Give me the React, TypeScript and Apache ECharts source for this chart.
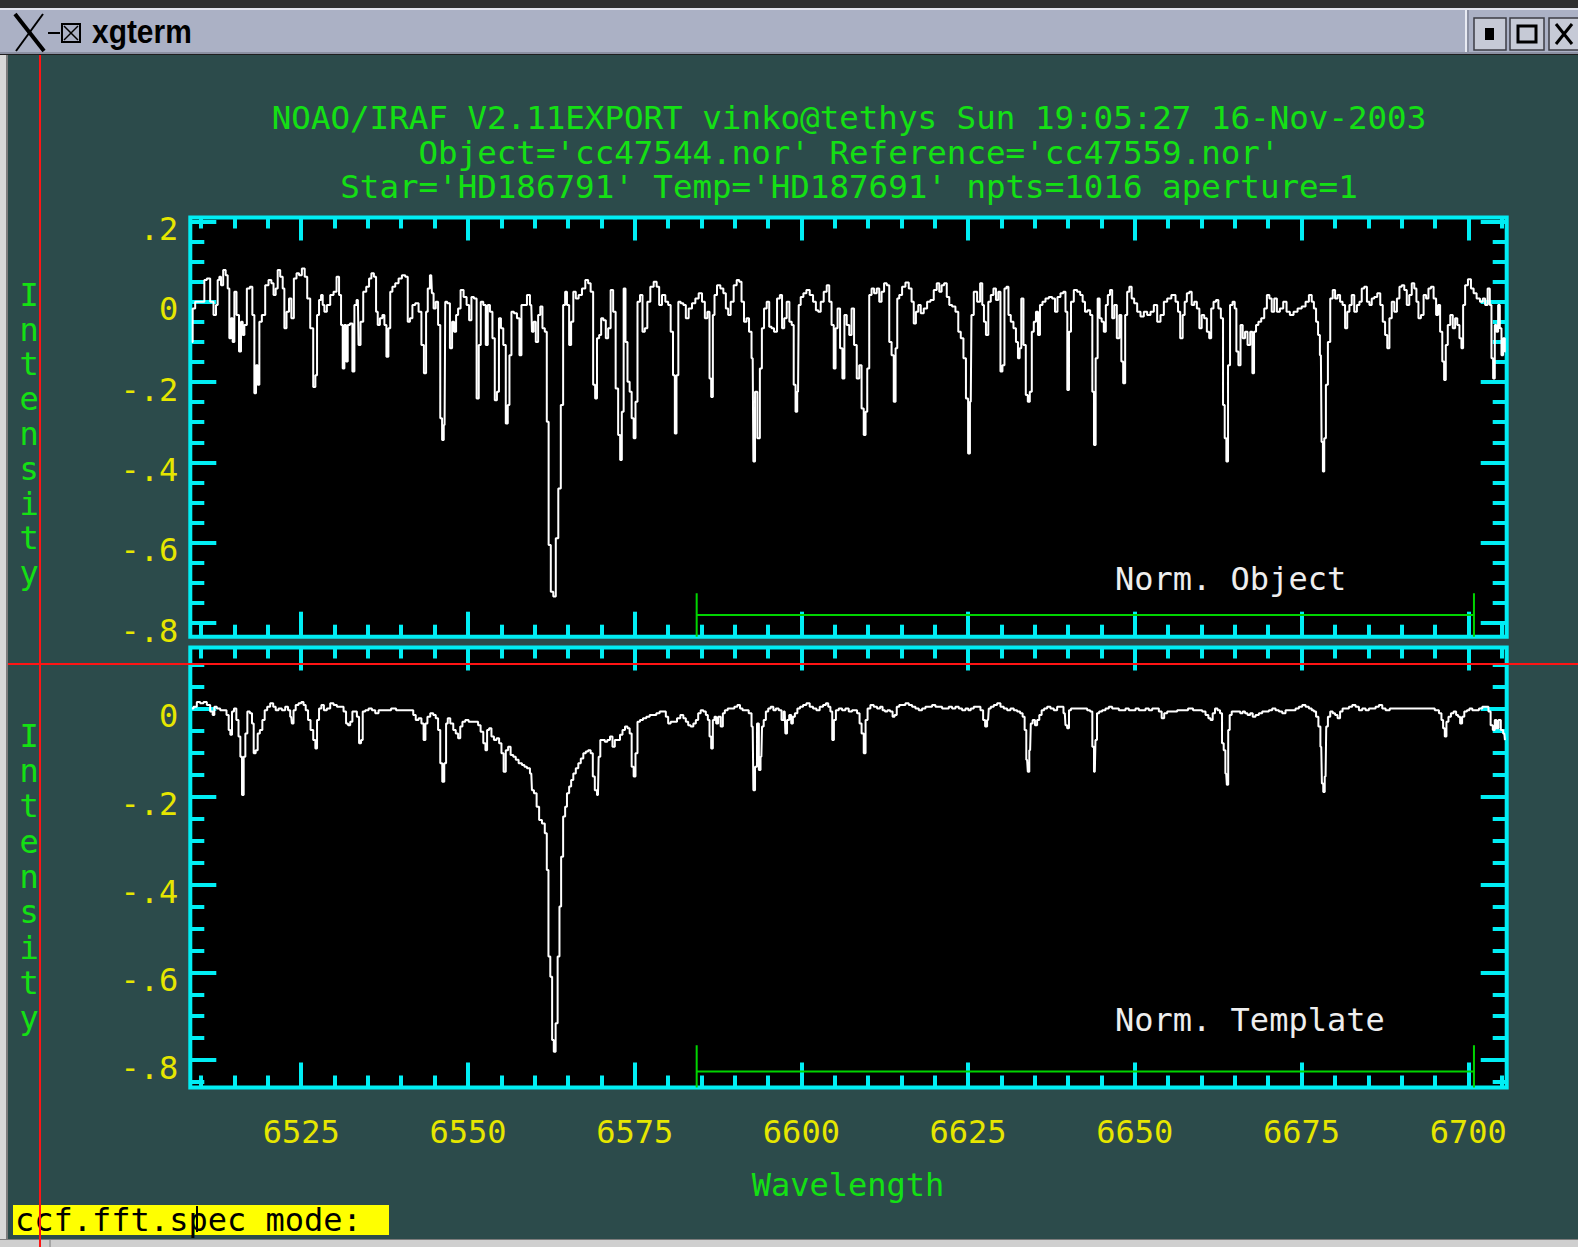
import React, { useEffect, useRef } from "react";
import * as echarts from "echarts";

const W = 1578;
const H = 1247;

const CYAN = "#00eef4";
const YELLOW = "#e6e600";
const GREEN = "#14e014";
const SAMPLE_GREEN = "#00d400";
const TERM_BG = "#2c4b4b";
const MONO = "'DejaVu Sans Mono', monospace";

// Axis ranges (wavelength in Angstrom, normalised intensity)
const waveRange = [6508.37, 6705.76];
const objectRange = [-0.834, 0.2097];
const templateRange = [-0.8624, 0.1399];

// Tick positions
const waveMajorTicks = [6525, 6550, 6575, 6600, 6625, 6650, 6675, 6700];
const waveMinorTicks = [
  6510, 6515, 6520, 6530, 6535, 6540, 6545, 6555, 6560, 6565, 6570, 6580, 6585, 6590, 6595,
  6605, 6610, 6615, 6620, 6630, 6635, 6640, 6645, 6655, 6660, 6665, 6670, 6680, 6685, 6690,
  6695, 6705,
];
const objectMajorTicks = [-0.8, -0.6, -0.4, -0.2, 0, 0.2];
const objectMinorTicks = [
  -0.75, -0.7, -0.65, -0.55, -0.5, -0.45, -0.35, -0.3, -0.25, -0.15, -0.1, -0.05, 0.05, 0.1, 0.15,
];
const templateMajorTicks = [-0.8, -0.6, -0.4, -0.2, 0];
const templateMinorTicks = [
  -0.85, -0.75, -0.7, -0.65, -0.55, -0.5, -0.45, -0.35, -0.3, -0.25, -0.15, -0.1, -0.05, 0.05, 0.1,
];

// Sample region used for the correlation
const sampleRegion = [6584.3, 6700.85];
const objectSampleMarks = { top: -0.726, level: -0.78 };
const templateSampleMarks = { top: -0.766, level: -0.826 };

// Header text
const headerLines = [
  "NOAO/IRAF V2.11EXPORT vinko@tethys Sun 19:05:27 16-Nov-2003",
  "Object='cc47544.nor' Reference='cc47559.nor'",
  "Star='HD186791' Temp='HD187691' npts=1016 aperture=1",
];

// Normalised object spectrum [wavelength, intensity]
const objectSpectrum: [number, number][] = [
  [6508.6,-0.100],[6508.85,-0.017],[6509.35,0],[6510.35,0],[6510.6,0.054],[6511.1,0.058],[6511.6,0],[6512.1,-0.033],[6512.35,-0.008],[6512.6,0.054],[6512.85,0.062],[6513.1,0.041],[6513.5,0.079],[6513.85,0.066],[6514.1,0.033],[6514.35,-0.091],[6514.6,-0.041],[6514.85,-0.100],[6515.1,0.025],[6515.5,-0.033],[6515.85,-0.124],[6516.1,-0.050],[6516.35,-0.083],[6516.6,-0.058],[6517.1,0.033],[6517.5,0.037],[6517.85,-0.033],[6518.1,-0.228],[6518.35,-0.158],[6518.6,-0.207],[6518.85,-0.050],[6519.35,-0.033],[6519.85,0.041],[6520.35,0.054],[6520.7,0.046],[6521.0,0.017],[6521.35,0.033],[6521.6,0.079],[6522.1,0.062],[6522.35,0.033],[6522.6,-0.066],[6523.0,-0.025],[6523.35,0.008],[6523.7,-0.041],[6524.1,0.058],[6524.5,0.071],[6524.85,0.066],[6525.35,0.083],[6525.7,0.062],[6526.1,0.008],[6526.6,-0.066],[6527.0,-0.212],[6527.25,-0.183],[6527.5,-0.033],[6527.85,0.004],[6528.1,0.017],[6528.35,-0.008],[6528.6,-0.025],[6529.1,-0.008],[6529.6,0.017],[6530.1,0.025],[6530.5,0.062],[6530.85,0.017],[6531.1,-0.058],[6531.35,-0.166],[6531.6,-0.058],[6531.85,-0.149],[6532.1,-0.058],[6532.5,-0.054],[6532.85,-0.174],[6533.1,-0.008],[6533.5,0.004],[6533.7,-0.108],[6534.1,-0.050],[6534.5,0.025],[6535.0,0.037],[6535.35,0.058],[6535.7,0.071],[6536.1,0.062],[6536.35,-0.025],[6536.6,-0.058],[6537.0,-0.041],[6537.35,-0.033],[6537.6,-0.058],[6537.95,-0.137],[6538.2,-0.066],[6538.5,0.025],[6538.85,0.037],[6539.35,0.046],[6539.85,0.058],[6540.35,0.066],[6540.85,0.062],[6541.1,-0.050],[6541.5,-0.041],[6541.85,-0.008],[6542.35,-0.004],[6542.85,-0.025],[6543.2,-0.108],[6543.6,-0.178],[6543.85,-0.025],[6544.1,0.033],[6544.5,0.066],[6544.7,0.021],[6545.0,-0.017],[6545.35,0],[6545.7,-0.058],[6546.0,-0.290],[6546.25,-0.344],[6546.5,-0.307],[6546.7,0],[6547.1,-0.004],[6547.5,-0.116],[6547.75,-0.050],[6548.1,-0.075],[6548.35,-0.033],[6548.7,-0.017],[6549.1,0.029],[6549.6,0.012],[6550.0,-0.008],[6550.35,-0.046],[6550.7,0.012],[6551.1,0.008],[6551.5,-0.241],[6551.75,-0.108],[6552.1,0],[6552.5,-0.008],[6552.85,-0.108],[6553.1,-0.008],[6553.5,-0.025],[6553.85,-0.091],[6554.2,-0.245],[6554.5,-0.224],[6554.8,-0.041],[6555.1,-0.066],[6555.5,-0.108],[6555.85,-0.303],[6556.1,-0.257],[6556.35,-0.133],[6556.7,-0.025],[6557.1,-0.029],[6557.6,-0.041],[6557.85,-0.133],[6558.2,-0.008],
  [6558.6,-0.008],[6559.1,0.017],[6559.5,-0.008],[6559.7,-0.075],[6560.0,-0.050],[6560.35,-0.100],[6560.7,-0.033],[6561.0,-0.012],[6561.35,-0.066],[6561.7,-0.075],[6561.95,-0.299],[6562.25,-0.606],[6562.6,-0.722],[6563.0,-0.734],[6563.35,-0.589],[6563.75,-0.465],[6564.1,-0.257],[6564.45,-0.008],[6564.7,0.025],[6565.0,-0.008],[6565.35,-0.108],[6565.6,-0.050],[6566.0,0.025],[6566.35,0.008],[6566.85,0.017],[6567.35,0.033],[6567.85,0.054],[6568.2,0.046],[6568.6,0.025],[6568.95,-0.207],[6569.2,-0.241],[6569.5,-0.091],[6569.85,-0.083],[6570.1,-0.041],[6570.5,-0.046],[6570.85,-0.091],[6571.2,-0.066],[6571.6,0.029],[6571.95,-0.025],[6572.35,-0.216],[6572.7,-0.332],[6572.95,-0.394],[6573.2,-0.274],[6573.5,0.033],[6573.75,-0.100],[6574.1,-0.199],[6574.4,-0.224],[6574.7,-0.290],[6575.0,-0.340],[6575.25,-0.249],[6575.6,0],[6576.0,0.017],[6576.35,-0.075],[6576.7,-0.066],[6577.1,0],[6577.6,0.037],[6578.1,0.050],[6578.5,0.037],[6578.85,-0.008],[6579.35,0.017],[6579.85,0],[6580.2,-0.008],[6580.6,-0.075],[6580.9,-0.183],[6581.15,-0.328],[6581.4,-0.183],[6581.7,0],[6582.1,-0.004],[6582.5,-0.008],[6582.85,-0.041],[6583.35,-0.017],[6583.85,-0.004],[6584.35,0.008],[6584.85,0.021],[6585.35,0],[6585.7,-0.041],[6586.1,-0.025],[6586.35,-0.191],[6586.6,-0.237],[6586.85,-0.033],[6587.1,0.017],[6587.6,0.041],[6588.1,0.033],[6588.5,0.021],[6588.85,-0.017],[6589.2,-0.033],[6589.6,0],[6590.1,0.041],[6590.5,0.054],[6590.85,0.050],[6591.2,0],[6591.6,-0.050],[6591.95,-0.041],[6592.35,-0.075],[6592.7,-0.141],[6592.9,-0.398],[6593.2,-0.224],[6593.6,-0.340],[6593.95,-0.166],[6594.2,-0.066],[6594.6,-0.017],[6595.0,0],[6595.35,-0.062],[6595.7,-0.066],[6596.1,-0.075],[6596.6,0.008],[6596.95,0.017],[6597.25,-0.066],[6597.6,-0.041],[6598.0,0],[6598.4,-0.050],[6598.7,-0.058],[6599.0,-0.207],[6599.25,-0.274],[6599.5,-0.224],[6599.7,-0.008],[6600.1,0.012],[6600.5,0.021],[6601.0,0.029],[6601.5,0.017],[6602.0,0],[6602.35,-0.021],[6602.7,-0.025],[6603.1,0],[6603.6,0.025],[6604.0,0.041],[6604.35,0],[6604.7,-0.058],[6605.0,-0.166],[6605.25,-0.066],[6605.6,-0.017],[6606.0,-0.116],[6606.3,-0.191],[6606.6,-0.033],[6607.0,-0.058],[6607.35,-0.083],[6607.7,-0.017],
  [6608.1,-0.108],[6608.5,-0.191],[6608.85,-0.158],[6609.2,-0.266],[6609.5,-0.332],[6609.75,-0.274],[6610.0,-0.166],[6610.35,0.017],[6610.7,0.033],[6611.1,0.021],[6611.5,0.033],[6611.85,0],[6612.2,0.025],[6612.6,0.046],[6613.0,0.041],[6613.35,-0.100],[6613.7,-0.133],[6614.0,-0.249],[6614.25,-0.116],[6614.5,0.008],[6614.85,0.017],[6615.35,0.037],[6615.85,0.048],[6616.35,0.033],[6616.7,0],[6617.0,-0.054],[6617.35,-0.025],[6617.7,-0.008],[6618.1,-0.029],[6618.6,-0.017],[6619.1,0],[6619.6,0.004],[6620.1,0.029],[6620.5,0.046],[6620.85,0.025],[6621.2,0.041],[6621.6,0.046],[6622.0,0.012],[6622.35,-0.008],[6622.85,-0.012],[6623.35,-0.025],[6623.7,-0.075],[6624.1,-0.091],[6624.5,-0.141],[6624.85,-0.241],[6625.15,-0.378],[6625.4,-0.249],[6625.6,-0.033],[6626.1,0.025],[6626.6,0],[6627.0,0.046],[6627.25,-0.008],[6627.5,-0.050],[6627.85,-0.083],[6628.2,0],[6628.6,0.017],[6629.0,0.033],[6629.35,0.004],[6629.7,0.025],[6630.0,-0.174],[6630.3,-0.158],[6630.6,0.033],[6630.9,0.037],[6631.2,-0.033],[6631.6,-0.050],[6632.0,-0.066],[6632.35,-0.100],[6632.6,-0.141],[6632.85,-0.116],[6633.1,0.008],[6633.5,-0.108],[6633.8,-0.232],[6634.1,-0.249],[6634.4,-0.224],[6634.7,-0.075],[6635.0,-0.050],[6635.35,-0.025],[6635.6,-0.083],[6635.95,-0.008],[6636.35,0],[6636.85,0.008],[6637.35,0.012],[6637.85,0.008],[6638.2,-0.025],[6638.6,0.012],[6639.1,0.021],[6639.45,0.025],[6639.75,-0.025],[6640.0,-0.220],[6640.25,-0.075],[6640.6,0],[6641.1,0.029],[6641.6,0.025],[6642.0,0.017],[6642.35,0],[6642.7,-0.025],[6643.1,-0.021],[6643.5,-0.033],[6643.75,-0.224],[6644.0,-0.357],[6644.25,-0.141],[6644.6,0.008],[6644.85,-0.041],[6645.2,-0.050],[6645.5,-0.075],[6645.8,-0.008],[6646.1,0.017],[6646.45,0.029],[6646.75,-0.041],[6647.1,-0.008],[6647.5,-0.091],[6647.85,-0.033],[6648.1,-0.149],[6648.4,-0.203],[6648.7,-0.033],[6649.0,0.025],[6649.35,0.037],[6649.7,0.008],[6650.1,-0.004],[6650.6,-0.025],[6651.1,-0.037],[6651.6,-0.025],[6652.1,-0.033],[6652.6,-0.025],[6653.1,-0.008],[6653.6,-0.050],[6654.1,-0.033],[6654.6,0],[6655.1,0.008],[6655.85,0.017],[6656.35,0],[6656.6,-0.025],[6657.0,-0.091],[6657.35,-0.033],
  [6657.6,0],[6658.0,0.021],[6658.35,0.025],[6658.7,-0.008],[6659.1,0],[6659.5,-0.017],[6659.85,-0.066],[6660.2,-0.033],[6660.6,-0.041],[6661.0,-0.075],[6661.3,-0.091],[6661.6,-0.017],[6662.0,0],[6662.35,0.004],[6662.7,-0.017],[6663.1,-0.041],[6663.35,-0.257],[6663.6,-0.340],[6663.85,-0.398],[6664.1,-0.158],[6664.45,-0.008],[6664.85,0],[6665.1,-0.017],[6665.35,-0.124],[6665.7,-0.158],[6666.0,-0.058],[6666.35,-0.091],[6666.7,-0.075],[6667.1,-0.108],[6667.5,-0.075],[6667.75,-0.178],[6668.0,-0.075],[6668.35,-0.058],[6668.7,-0.050],[6669.2,-0.041],[6669.6,-0.017],[6670.0,0.017],[6670.35,0.008],[6670.7,-0.025],[6671.1,0.008],[6671.5,-0.025],[6672.0,-0.017],[6672.5,0],[6673.0,-0.025],[6673.5,-0.033],[6674.1,-0.025],[6674.7,-0.017],[6675.35,-0.012],[6675.85,0],[6676.35,0.017],[6676.7,0],[6677.0,-0.017],[6677.35,-0.050],[6677.6,-0.083],[6677.9,-0.133],[6678.1,-0.349],[6678.3,-0.423],[6678.5,-0.340],[6678.8,-0.207],[6679.1,-0.100],[6679.5,0.008],[6679.85,0.029],[6680.2,0.008],[6680.6,0.017],[6680.95,0],[6681.35,-0.008],[6681.7,-0.066],[6682.0,-0.025],[6682.35,-0.008],[6682.7,0.017],[6683.1,-0.025],[6683.5,-0.008],[6683.85,0],[6684.2,0.033],[6684.6,0.037],[6685.0,0],[6685.35,-0.008],[6685.7,0.008],[6686.1,0.012],[6686.6,0.021],[6687.0,-0.008],[6687.35,-0.050],[6687.7,-0.083],[6688.0,-0.116],[6688.35,-0.041],[6688.7,0],[6689.1,-0.025],[6689.5,0.008],[6689.85,0.037],[6690.2,0.041],[6690.6,0.029],[6690.95,-0.008],[6691.35,0.017],[6691.7,0.046],[6692.1,0.033],[6692.35,0],[6692.7,-0.041],[6693.1,-0.033],[6693.5,0.017],[6693.85,0.008],[6694.2,0.033],[6694.6,0.037],[6695.0,0.008],[6695.35,-0.033],[6695.6,-0.008],[6695.95,-0.075],[6696.25,-0.149],[6696.5,-0.195],[6696.75,-0.108],[6697.1,-0.058],[6697.5,-0.033],[6697.85,-0.066],[6698.2,-0.041],[6698.5,-0.058],[6698.85,-0.091],[6699.1,-0.116],[6699.35,-0.008],[6699.7,0.041],[6700.2,0.056],[6700.6,0.033],[6701.0,0.021],[6701.5,0.008],[6702.0,0],[6702.35,0.008],[6702.7,-0.008],[6703.1,0.033],[6703.35,-0.008],[6703.6,-0.141],[6703.85,-0.191],[6704.1,-0.058],[6704.35,-0.075],[6704.6,-0.008],[6704.85,-0.066],[6705.1,-0.133],[6705.35,-0.091],[6705.6,-0.124],
];

// Normalised template spectrum [wavelength, intensity]
const templateSpectrum: [number, number][] = [
  [6508.6,0.001],[6509.1,0.005],[6509.6,0.016],[6510.1,0.013],[6510.6,0.016],[6511.1,0.009],[6511.6,-0.006],[6511.85,-0.014],[6512.1,0.005],[6512.6,0.001],[6513.1,-0.003],[6513.6,-0.003],[6514.0,-0.014],[6514.25,-0.048],[6514.5,-0.059],[6514.75,-0.006],[6515.1,0.001],[6515.45,-0.025],[6515.75,-0.063],[6516.0,-0.109],[6516.25,-0.196],[6516.5,-0.109],[6516.75,-0.056],[6517.1,-0.006],[6517.5,-0.010],[6517.75,-0.033],[6518.0,-0.101],[6518.35,-0.094],[6518.6,-0.056],[6519.0,-0.048],[6519.35,-0.025],[6519.7,-0.003],[6520.1,0.005],[6520.6,0.013],[6521.0,0.005],[6521.35,-0.003],[6521.85,0.001],[6522.35,-0.003],[6522.85,0.005],[6523.2,-0.003],[6523.5,-0.018],[6523.7,-0.033],[6524.0,-0.003],[6524.35,0.009],[6524.85,0.013],[6525.2,0.016],[6525.5,0.009],[6525.85,-0.003],[6526.2,-0.025],[6526.6,-0.048],[6527.0,-0.071],[6527.25,-0.090],[6527.5,-0.025],[6527.85,0.001],[6528.2,0.009],[6528.6,-0.003],[6529.1,0.001],[6529.6,0.013],[6530.1,0.009],[6530.6,0.005],[6531.1,0.005],[6531.6,-0.006],[6531.85,-0.033],[6532.2,-0.037],[6532.5,-0.029],[6532.85,-0.006],[6533.2,-0.006],[6533.5,-0.018],[6533.85,-0.078],[6534.1,-0.071],[6534.35,-0.006],[6534.85,-0.003],[6535.35,0.001],[6535.85,-0.003],[6536.35,-0.010],[6536.85,-0.003],[6537.35,-0.003],[6538.1,-0.003],[6538.85,0.001],[6539.6,-0.003],[6540.35,-0.003],[6541.1,-0.003],[6541.6,-0.003],[6542.0,-0.014],[6542.35,-0.025],[6542.85,-0.021],[6543.2,-0.033],[6543.5,-0.071],[6543.75,-0.033],[6544.1,-0.018],[6544.6,-0.010],[6545.0,-0.014],[6545.35,-0.021],[6545.7,-0.048],[6546.0,-0.124],[6546.3,-0.166],[6546.6,-0.124],[6546.85,-0.033],[6547.1,-0.021],[6547.6,-0.033],[6548.0,-0.048],[6548.35,-0.056],[6548.7,-0.067],[6549.0,-0.040],[6549.35,-0.029],[6549.85,-0.025],[6550.35,-0.029],[6550.85,-0.029],[6551.35,-0.029],[6551.7,-0.037],[6552.1,-0.052],[6552.5,-0.078],[6552.75,-0.094],[6553.0,-0.048],[6553.35,-0.044],[6553.7,-0.063],[6554.1,-0.071],[6554.5,-0.067],[6554.85,-0.078],[6555.2,-0.101],[6555.5,-0.143],[6555.85,-0.094],[6556.2,-0.086],[6556.6,-0.105],[6557.0,-0.109],[6557.35,-0.116],[6557.85,-0.124],[6558.35,-0.128],
  [6558.6,-0.132],[6559.1,-0.135],[6559.5,-0.147],[6559.7,-0.185],[6560.1,-0.192],[6560.5,-0.223],[6560.85,-0.253],[6561.35,-0.261],[6561.7,-0.283],[6561.95,-0.367],[6562.2,-0.564],[6562.5,-0.610],[6562.75,-0.754],[6563.0,-0.781],[6563.3,-0.716],[6563.6,-0.564],[6563.85,-0.450],[6564.1,-0.337],[6564.45,-0.245],[6564.7,-0.223],[6565.0,-0.192],[6565.35,-0.177],[6565.6,-0.162],[6566.0,-0.147],[6566.35,-0.135],[6566.75,-0.124],[6567.1,-0.113],[6567.5,-0.101],[6567.85,-0.097],[6568.2,-0.094],[6568.6,-0.101],[6568.85,-0.154],[6569.2,-0.185],[6569.5,-0.196],[6569.7,-0.109],[6570.0,-0.071],[6570.35,-0.071],[6570.7,-0.075],[6571.1,-0.071],[6571.5,-0.063],[6571.85,-0.086],[6572.2,-0.071],[6572.6,-0.071],[6573.0,-0.059],[6573.35,-0.048],[6573.75,-0.040],[6574.1,-0.044],[6574.4,-0.056],[6574.7,-0.132],[6575.0,-0.154],[6575.25,-0.101],[6575.6,-0.029],[6576.0,-0.025],[6576.5,-0.021],[6577.0,-0.018],[6577.5,-0.014],[6578.0,-0.014],[6578.5,-0.010],[6579.0,-0.006],[6579.5,-0.006],[6579.85,-0.018],[6580.2,-0.033],[6580.6,-0.029],[6581.1,-0.029],[6581.6,-0.021],[6582.1,-0.014],[6582.5,-0.021],[6582.85,-0.029],[6583.2,-0.037],[6583.6,-0.040],[6584.0,-0.033],[6584.35,-0.025],[6584.7,-0.010],[6585.1,-0.003],[6585.5,-0.006],[6585.85,-0.014],[6586.1,-0.025],[6586.35,-0.063],[6586.6,-0.090],[6586.85,-0.025],[6587.1,-0.018],[6587.35,-0.033],[6587.7,-0.018],[6588.1,-0.040],[6588.35,-0.010],[6588.7,-0.003],[6589.2,0.001],[6589.7,0.001],[6590.2,0.005],[6590.6,0.009],[6591.0,0.001],[6591.35,-0.003],[6591.85,-0.003],[6592.35,-0.010],[6592.7,-0.040],[6592.9,-0.185],[6593.2,-0.132],[6593.5,-0.033],[6593.75,-0.139],[6594.0,-0.109],[6594.2,-0.040],[6594.5,-0.025],[6594.85,-0.006],[6595.2,0.001],[6595.6,0.005],[6596.0,-0.003],[6596.35,0.001],[6596.85,-0.003],[6597.2,-0.025],[6597.5,-0.006],[6597.7,-0.056],[6598.0,-0.025],[6598.35,-0.014],[6598.6,-0.033],[6598.85,-0.018],[6599.2,-0.010],[6599.6,0.001],[6600.0,0.005],[6600.5,0.009],[6601.0,0.013],[6601.5,0.005],[6602.0,0.001],[6602.5,-0.003],[6603.0,0.005],[6603.5,0.009],[6603.85,0.013],[6604.2,0.005],[6604.5,-0.006],[6604.75,-0.071],[6605.0,-0.025],[6605.35,-0.003],[6605.85,0.001],[6606.35,-0.003],[6606.85,0.001],[6607.35,-0.006],[6607.85,-0.003],
  [6608.1,-0.003],[6608.6,-0.010],[6608.85,-0.033],[6609.2,-0.056],[6609.5,-0.101],[6609.75,-0.025],[6610.1,0.001],[6610.6,0.009],[6611.1,0.005],[6611.6,0.001],[6612.0,0.005],[6612.35,-0.003],[6612.7,-0.006],[6613.1,-0.003],[6613.5,-0.006],[6613.85,-0.018],[6614.1,-0.014],[6614.5,0.005],[6614.85,0.009],[6615.35,0.009],[6615.85,0.013],[6616.35,0.009],[6616.85,0.005],[6617.35,0.001],[6617.85,-0.003],[6618.35,0.001],[6618.85,0.005],[6619.35,0.005],[6619.85,0.009],[6620.35,0.005],[6620.85,0.005],[6621.35,0.001],[6621.85,0.001],[6622.35,0.005],[6622.85,0.001],[6623.35,0.005],[6623.85,0.001],[6624.35,-0.003],[6624.85,0.001],[6625.2,-0.003],[6625.6,0.001],[6626.1,0.005],[6626.6,0.005],[6627.1,-0.003],[6627.4,-0.025],[6627.7,-0.040],[6628.0,-0.025],[6628.2,0.001],[6628.6,0.005],[6629.1,0.009],[6629.6,0.013],[6630.1,0.005],[6630.6,0.001],[6631.1,-0.003],[6631.6,0.001],[6632.1,-0.003],[6632.6,-0.006],[6633.0,-0.010],[6633.35,-0.018],[6633.6,-0.048],[6633.85,-0.116],[6634.05,-0.143],[6634.3,-0.094],[6634.5,-0.033],[6634.85,-0.025],[6635.2,-0.037],[6635.5,-0.025],[6635.85,-0.014],[6636.2,-0.003],[6636.6,0.001],[6637.1,0.005],[6637.6,0.001],[6638.1,-0.003],[6638.6,0.005],[6639.1,0.005],[6639.5,-0.010],[6639.7,-0.037],[6640.0,-0.044],[6640.25,-0.003],[6640.6,0.001],[6641.1,0.001],[6641.6,0.001],[6642.1,0.001],[6642.6,0.001],[6643.1,-0.003],[6643.5,-0.006],[6643.75,-0.086],[6644.0,-0.143],[6644.2,-0.071],[6644.45,-0.010],[6644.85,-0.006],[6645.35,-0.003],[6645.85,0.001],[6646.35,0.005],[6646.85,0.001],[6647.35,0.001],[6647.85,-0.003],[6648.35,-0.003],[6648.85,0.001],[6649.35,-0.003],[6649.85,-0.003],[6650.35,0.001],[6650.85,-0.003],[6651.35,-0.003],[6651.85,0.001],[6652.35,-0.003],[6652.85,0.001],[6653.35,0.001],[6653.85,-0.006],[6654.2,-0.021],[6654.6,-0.010],[6655.1,-0.006],[6655.6,-0.006],[6656.1,-0.006],[6656.6,-0.003],[6657.1,-0.003],
  [6657.6,-0.003],[6658.35,0.001],[6659.1,-0.003],[6659.85,-0.003],[6660.35,-0.006],[6660.85,-0.014],[6661.2,-0.021],[6661.5,-0.025],[6661.85,-0.010],[6662.2,0.001],[6662.6,-0.003],[6662.95,-0.010],[6663.2,-0.078],[6663.45,-0.094],[6663.7,-0.147],[6663.9,-0.173],[6664.1,-0.048],[6664.35,-0.014],[6664.7,-0.006],[6665.1,-0.006],[6665.6,-0.006],[6666.0,-0.010],[6666.35,-0.006],[6666.7,-0.010],[6667.1,-0.014],[6667.5,-0.010],[6667.85,-0.018],[6668.35,-0.014],[6668.85,-0.010],[6669.35,-0.006],[6669.85,-0.006],[6670.35,-0.003],[6670.85,0.001],[6671.35,-0.003],[6671.85,-0.006],[6672.35,-0.010],[6672.85,-0.003],[6673.35,-0.003],[6673.85,-0.003],[6674.35,0.001],[6674.85,0.005],[6675.35,0.009],[6675.85,0.005],[6676.35,0.001],[6676.7,-0.003],[6677.0,-0.006],[6677.35,-0.018],[6677.7,-0.040],[6677.95,-0.086],[6678.15,-0.170],[6678.35,-0.189],[6678.6,-0.154],[6678.8,-0.040],[6679.1,-0.018],[6679.5,-0.006],[6679.85,-0.010],[6680.2,-0.014],[6680.6,-0.021],[6680.95,-0.006],[6681.35,0.001],[6681.85,0.001],[6682.35,0.005],[6682.85,0.009],[6683.35,0.005],[6683.85,-0.003],[6684.35,0.001],[6684.85,-0.003],[6685.35,0.001],[6685.85,0.001],[6686.35,0.005],[6686.85,0.009],[6687.35,0.001],[6687.85,-0.003],[6688.6,0.001],[6689.35,0.001],[6690.1,0.001],[6690.85,0.001],[6691.6,0.001],[6692.35,0.001],[6693.1,0.001],[6693.85,0.001],[6694.6,0.001],[6695.35,-0.003],[6695.85,-0.010],[6696.1,-0.025],[6696.35,-0.044],[6696.6,-0.063],[6696.85,-0.029],[6697.2,-0.018],[6697.6,-0.010],[6698.0,-0.006],[6698.35,-0.014],[6698.6,-0.018],[6698.95,-0.033],[6699.2,-0.018],[6699.6,-0.006],[6700.0,-0.003],[6700.35,0.001],[6700.85,-0.003],[6701.35,-0.003],[6701.85,0.001],[6702.35,0.005],[6702.85,0.005],[6703.2,-0.006],[6703.5,-0.037],[6703.85,-0.048],[6704.1,-0.025],[6704.35,-0.044],[6704.7,-0.025],[6705.05,-0.048],[6705.4,-0.056],[6705.6,-0.071],
];

const intensityFormatter = (v: number) => {
  if (Math.abs(v) < 1e-9) return "0";
  return (v < 0 ? "-" : "") + "." + Math.round(Math.abs(v) * 10);
};
const waveFormatter = (v: number) => String(Math.round(v));

type Side = "top" | "bottom" | "left" | "right";

// One value axis that only contributes a set of inward cyan ticks (and optionally labels)
function tickAxis(
  grid: number,
  side: Side,
  range: number[],
  ticks: number[],
  length: number,
  label?: any
) {
  return {
    type: "value",
    gridIndex: grid,
    position: side,
    min: range[0],
    max: range[1],
    axisLine: { show: false, onZero: false },
    splitLine: { show: false },
    axisTick: {
      show: true,
      inside: true,
      length,
      customValues: ticks,
      lineStyle: { color: CYAN, width: 4 },
    },
    axisLabel: label
      ? {
          show: true,
          customValues: ticks,
          color: YELLOW,
          fontFamily: MONO,
          fontSize: 32,
          ...label,
        }
      : { show: false },
  };
}

function waveAxes(grid: number, withLabels: boolean) {
  return [
    tickAxis(
      grid,
      "bottom",
      waveRange,
      waveMajorTicks,
      25,
      withLabels ? { margin: 28, formatter: waveFormatter } : undefined
    ),
    tickAxis(grid, "bottom", waveRange, waveMinorTicks, 12),
    tickAxis(grid, "top", waveRange, waveMajorTicks, 23),
    tickAxis(grid, "top", waveRange, waveMinorTicks, 11),
  ];
}

function intensityAxes(grid: number, range: number[], major: number[], minor: number[]) {
  return [
    tickAxis(grid, "left", range, major, 26, {
      margin: 12,
      verticalAlign: "top",
      lineHeight: 15,
      formatter: intensityFormatter,
    }),
    tickAxis(grid, "left", range, minor, 14),
    tickAxis(grid, "right", range, major, 26),
    tickAxis(grid, "right", range, minor, 14),
  ];
}

function sampleSeries(axis: number, marks: { top: number; level: number }, bottom: number) {
  const base = {
    type: "line",
    xAxisIndex: axis,
    yAxisIndex: axis,
    symbol: "none",
    silent: true,
    z: 4,
    lineStyle: { color: SAMPLE_GREEN, width: 2 },
  };
  return [
    { ...base, data: [[sampleRegion[0], marks.top], [sampleRegion[0], bottom]] },
    { ...base, data: [[sampleRegion[1], marks.top], [sampleRegion[1], bottom]] },
    { ...base, data: [[sampleRegion[0], marks.level], [sampleRegion[1], marks.level]] },
  ];
}

function monoText(text: string, x: number, y: number, fill: string, align = "left", extra: any = {}) {
  return {
    type: "text",
    x,
    y,
    z: 50,
    silent: true,
    style: {
      text,
      fill,
      fontFamily: MONO,
      fontSize: 32,
      align,
      textAlign: align,
      verticalAlign: "middle",
      textVerticalAlign: "middle",
      ...extra,
    },
  };
}

function windowDecorations() {
  const rect = (x: number, y: number, w: number, h: number, fill: string, extra: any = {}) => ({
    type: "rect",
    silent: true,
    shape: { x, y, width: w, height: h },
    style: { fill, ...extra },
  });
  const line = (x1: number, y1: number, x2: number, y2: number, stroke: string, lw: number, z = 1) => ({
    type: "line",
    silent: true,
    z,
    shape: { x1, y1, x2, y2 },
    style: { stroke, lineWidth: lw },
  });
  return [
    // frame above the title bar
    rect(0, 0, W, 8, "#2f2f2f"),
    rect(0, 8, W, 2, "#e2e4ec"),
    // title bar
    rect(0, 10, W, 42, "#abb1c5"),
    rect(0, 52, W, 2, "#8b90a2"),
    rect(0, 54, W, 1, "#1e1e1e"),
    // X logo
    line(15, 14, 44, 51, "#000", 4),
    line(43, 14, 16, 51, "#000", 2),
    // pin icon
    line(48, 33, 60, 33, "#000", 2),
    rect(62, 24, 18, 18, "none", { stroke: "#000", lineWidth: 2 }),
    line(64, 26, 78, 40, "#000", 1.5),
    line(78, 26, 64, 40, "#000", 1.5),
    {
      type: "text",
      x: 92,
      y: 31,
      scaleX: 0.88,
      silent: true,
      style: {
        text: "xgterm",
        fill: "#000",
        fontFamily: "'Liberation Sans', Arial, sans-serif",
        fontWeight: "bold",
        fontSize: 34,
        align: "left",
        textAlign: "left",
        verticalAlign: "middle",
        textVerticalAlign: "middle",
      },
    },
    // title bar buttons
    line(1466, 10, 1466, 52, "#e8eaf2", 2),
    line(1468, 10, 1468, 52, "#6c7080", 1),
    rect(1474, 18, 32, 32, "#c6cad6", { stroke: "#3c3c44", lineWidth: 1.5 }),
    rect(1485, 28, 9, 12, "#000"),
    rect(1510, 18, 34, 32, "#c6cad6", { stroke: "#3c3c44", lineWidth: 1.5 }),
    rect(1518, 26, 18, 16, "none", { stroke: "#000", lineWidth: 3 }),
    rect(1549, 18, 34, 32, "#c6cad6", { stroke: "#3c3c44", lineWidth: 1.5 }),
    line(1556, 24, 1572, 44, "#000", 3),
    line(1572, 24, 1556, 44, "#000", 3),
    // left and bottom window frame
    rect(0, 55, 6, H - 55, "#d8d8d8"),
    rect(6, 55, 2, H - 55, "#7c7c7c"),
    rect(0, 1239, W, 8, "#cfcfcf"),
    rect(0, 1239, W, 1, "#7c7c7c"),
    line(50, 1239, 50, H, "#7c7c7c", 1),
    // command prompt
    rect(13, 1205, 376, 30, "#ffff00"),
    monoText("ccf.fft.spec mode:", 15, 1220, "#000"),
    line(197, 1206, 197, 1232, "#000", 2, 60),
    // cursor crosshair
    line(40, 55, 40, H, "#ff1414", 2, 100),
    line(8, 664, W, 664, "#ff1414", 2, 100),
  ];
}

function buildOption() {
  const graphics: any[] = [
    ...windowDecorations(),
    monoText(headerLines.join("\n"), 849, 152.6, GREEN, "center", { lineHeight: 34.7, fontSize: 32.5 }),
    monoText("I\nn\nt\ne\nn\ns\ni\nt\ny", 29, 434, GREEN, "center", { lineHeight: 34.8 }),
    monoText("I\nn\nt\ne\nn\ns\ni\nt\ny", 29, 877, GREEN, "center", { lineHeight: 35.3 }),
    monoText("Wavelength", 848, 1185, GREEN, "center"),
    monoText("Norm. Object", 1115, 579, "#eeeeee"),
    monoText("Norm. Template", 1115, 1020, "#eeeeee"),
  ];

  const gridBase = {
    show: true,
    left: 190.3,
    width: 1316.4,
    backgroundColor: "#000",
    borderColor: CYAN,
    borderWidth: 4,
    containLabel: false,
  };

  // IRAF draws spectra as histogram-style steps
  const spectrumStyle = {
    type: "line",
    step: "middle",
    symbol: "none",
    silent: true,
    z: 3,
    lineStyle: { color: "#ffffff", width: 2 },
  };

  return {
    animation: false,
    backgroundColor: TERM_BG,
    grid: [
      { ...gridBase, top: 217.5, height: 419.2 },
      { ...gridBase, top: 647.5, height: 440 },
    ],
    xAxis: [...waveAxes(0, false), ...waveAxes(1, true)],
    yAxis: [
      ...intensityAxes(0, objectRange, objectMajorTicks, objectMinorTicks),
      ...intensityAxes(1, templateRange, templateMajorTicks, templateMinorTicks),
    ],
    series: [
      { ...spectrumStyle, name: "Norm. Object", xAxisIndex: 0, yAxisIndex: 0, data: objectSpectrum },
      { ...spectrumStyle, name: "Norm. Template", xAxisIndex: 4, yAxisIndex: 4, data: templateSpectrum },
      ...sampleSeries(0, objectSampleMarks, objectRange[0]),
      ...sampleSeries(4, templateSampleMarks, templateRange[0]),
    ],
    graphic: { elements: graphics },
  };
}

export default function App() {
  const ref = useRef<HTMLDivElement>(null);

  useEffect(() => {
    document.body.style.margin = "0";
    const chart = echarts.init(ref.current!, undefined, { renderer: "svg", width: W, height: H });
    chart.setOption(buildOption() as any);
    return () => chart.dispose();
  }, []);

  return <div ref={ref} style={{ width: W, height: H }} />;
}
